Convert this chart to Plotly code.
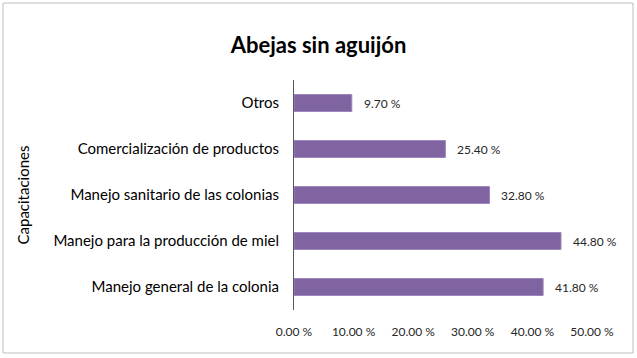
import plotly.graph_objects as go

categories = ["Otros", "Comercialización de productos", "Manejo sanitario de las colonias",
              "Manejo para la producción de miel", "Manejo general de la colonia"]
values = [9.7, 25.4, 32.8, 44.8, 41.8]
tick_vals = [0, 10, 20, 30, 40, 50]
tick_text = ["0.00 %", "10.00 %", "20.00 %", "30.00 %", "40.00 %", "50.00 %"]

FONT = "Lato, Carlito, Calibri, sans-serif"
W, H = 637, 358
ml, mr, mt, mb = 294, 45, 80, 48
pw, ph = W - ml - mr, H - mt - mb

fig = go.Figure(go.Bar(
    x=values, y=categories, orientation="h",
    marker=dict(color="#8064A2", line=dict(color="#9C86BB", width=1)),
    width=0.37, hoverinfo="skip",
))

for c, v in zip(categories, values):
    fig.add_annotation(x=v, y=c, text=f"{v:.2f} %", showarrow=False,
                       xanchor="left", xshift=10, font=dict(size=12, color="#262626", family=FONT))

fig.add_shape(type="rect", xref="paper", yref="paper",
              x0=(3 - ml) / pw, x1=(633 - ml) / pw,
              y0=-(353 - mt - ph) / ph, y1=1 + (mt - 3) / ph,
              line=dict(color="#BFBFBF", width=1))

fig.update_layout(
    width=W, height=H, margin=dict(l=ml, r=mr, t=mt, b=mb),
    paper_bgcolor="white", plot_bgcolor="white",
    font=dict(family=FONT, color="#000000"),
    title=dict(text="<b>Abejas sin aguijón</b>", x=0.5, xref="container", xanchor="center",
               y=1 - 45 / H, yanchor="middle", font=dict(size=22, family=FONT, color="#000000")),
    showlegend=False,
    xaxis=dict(range=[0, 50], tickvals=tick_vals, ticktext=tick_text, showgrid=False, zeroline=False,
               showline=False, ticks="outside", ticklen=11, tickcolor="rgba(0,0,0,0)",
               tickfont=dict(size=12, color="#262626", family=FONT), fixedrange=True),
    yaxis=dict(autorange="reversed", showgrid=False, zeroline=False, showline=True, linecolor="#595959",
               linewidth=1, ticks="outside", ticklen=11, tickcolor="rgba(0,0,0,0)",
               tickfont=dict(size=15, color="#000000", family=FONT), fixedrange=True,
               title=dict(text="Capacitaciones", font=dict(size=15, family=FONT, color="#000000"), standoff=20)),
)

fig.write_html("out.html", config={"displayModeBar": False},
               post_script="document.body.style.margin='0';document.body.style.padding='0';")
